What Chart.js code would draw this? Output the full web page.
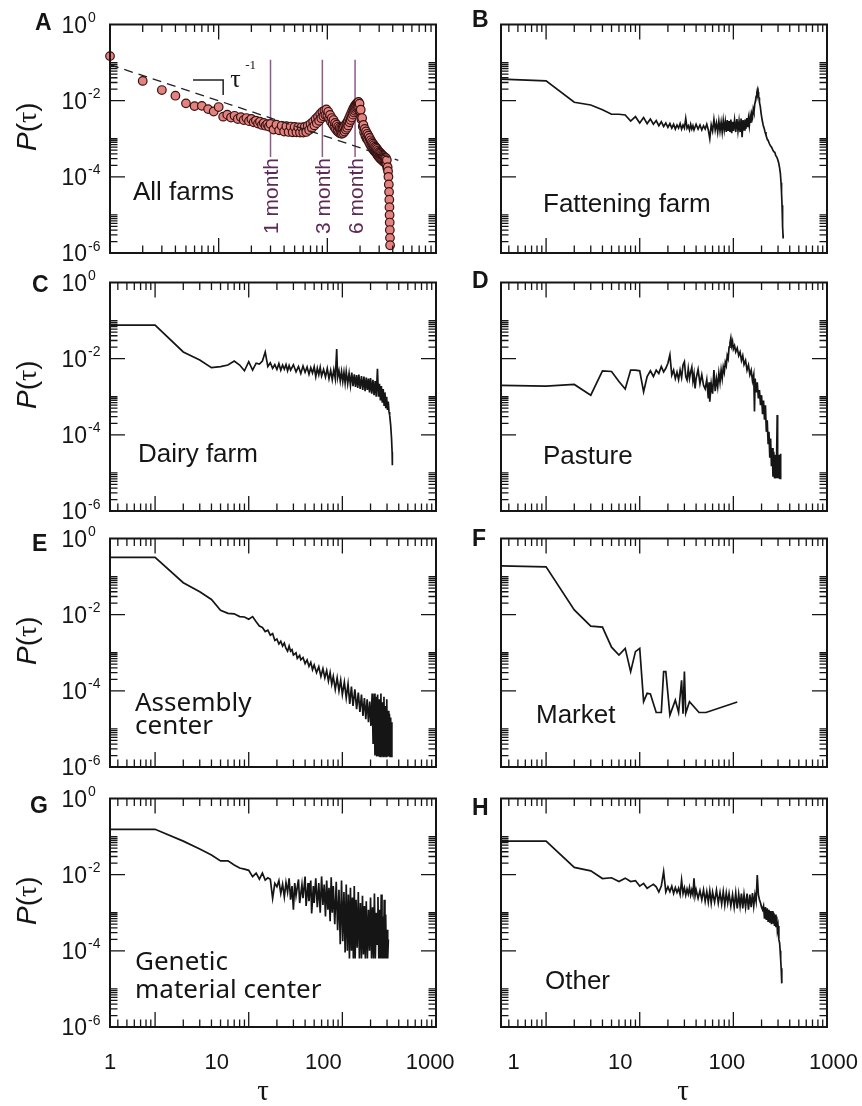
<!DOCTYPE html>
<html>
<head>
<meta charset="utf-8">
<title>Return-time distributions P(τ) by premises type</title>
<script src="https://cdn.jsdelivr.net/npm/chart.js@4.4.1/dist/chart.umd.min.js"></script>
<style>
  html, body { margin: 0; padding: 0; background: #ffffff; }
  #fig { position: relative; width: 862px; height: 1106px; overflow: hidden; }
  #fig canvas { position: absolute; left: 0; top: 0; }
</style>
</head>
<body>
<div id="fig"></div>
<script>
// ---------------------------------------------------------------------------
// Data: [tau (days), P(tau)] for each premises type
// ---------------------------------------------------------------------------
const allFarms = [[1,1.48e-1],[2,3.3e-2],[3,1.9e-2],[4,1.35e-2],[5,8.5e-3],[6,7.2e-3],[7,7.3e-3],[8,6.0e-3],[9,5.2e-3],[10,6.8e-3],
  [11,3.8e-3],[12,4.3e-3],[13,3.6e-3],[14,4.0e-3],[15,3.3e-3],[16,3.7e-3],[17,3.1e-3],[18,3.5e-3],[19,2.9e-3],[20,3.3e-3],
  [21,2.7e-3],[22,3.0e-3],[23,2.5e-3],[24,2.8e-3],[25,2.3e-3],[26,2.6e-3],[27,2.2e-3],[28,2.4e-3],[29,2.1e-3],
  [30,2.45e-3],[32,1.74e-3],[34,2.34e-3],[36,1.66e-3],[38,2.19e-3],[40,1.55e-3],[42,2.14e-3],[44,1.51e-3],[46,2.09e-3],[48,1.48e-3],
  [50,2.04e-3],[52,1.48e-3],[54,2.0e-3],[56,1.45e-3],[58,2.0e-3],[60,1.45e-3],[62,2.04e-3],[64,1.51e-3],[66,2.19e-3],[68,1.7e-3],
  [70,2.45e-3],[72,1.91e-3],[74,2.82e-3],[76,2.24e-3],[78,3.31e-3],[80,2.57e-3],[82,3.8e-3],[84,2.95e-3],[86,4.47e-3],[88,3.47e-3],
  [90,5.1e-3],[92,3.9e-3],[94,5.5e-3],[96,4.2e-3],[98,5.9e-3],[100,4.0e-3],[102,5.1e-3],[104,3.4e-3],[106,4.2e-3],[108,2.8e-3],
  [110,3.5e-3],[112,2.4e-3],[114,3.1e-3],[116,2.04e-3],[118,2.6e-3],[120,1.78e-3],[122,2.34e-3],[124,1.58e-3],[126,2.09e-3],[128,1.45e-3],
  [130,1.95e-3],[132,1.38e-3],[134,1.86e-3],[136,1.35e-3],[138,1.91e-3],[140,1.41e-3],[142,2.04e-3],[144,1.55e-3],[146,2.29e-3],[148,1.74e-3],
  [150,2.57e-3],[152,1.95e-3],[154,2.88e-3],[156,2.24e-3],[158,3.4e-3],[160,2.7e-3],[162,4.0e-3],[164,3.1e-3],[166,4.7e-3],[168,3.6e-3],
  [170,5.5e-3],[172,4.3e-3],[174,6.3e-3],[176,4.9e-3],[178,7.1e-3],[180,5.4e-3],[182,7.8e-3],[184,5.9e-3],[186,8.5e-3],[188,6.3e-3],
  [190,8.9e-3],[192,6.6e-3],[194,9.3e-3],[196,6.8e-3],[198,8.3e-3],[200,5.4e-3],[203,5.8e-3],[206,3.2e-3],[209,3.5e-3],[212,2.1e-3],
  [215,2.3e-3],[218,1.48e-3],[221,1.82e-3],[224,1.2e-3],[227,1.55e-3],[230,1.02e-3],[233,1.35e-3],[236,9.3e-4],[239,1.2e-3],[242,8.1e-4],
  [245,1.05e-3],[248,7.1e-4],[251,9.1e-4],[254,6.3e-4],[257,8.1e-4],[260,5.6e-4],[263,7.4e-4],[266,5.1e-4],[269,6.8e-4],[272,4.7e-4],
  [275,6.2e-4],[278,4.4e-4],[281,5.8e-4],[284,4.1e-4],[287,5.4e-4],[290,3.7e-4],[293,4.9e-4],[296,3.4e-4],[299,4.5e-4],[302,3.2e-4],
  [305,4.3e-4],[308,3.0e-4],[311,4.1e-4],[314,2.9e-4],[317,3.8e-4],[320,2.7e-4],[323,3.6e-4],[326,2.6e-4],[329,3.5e-4],[332,2.45e-4],
  [335,3.3e-4],[338,2.4e-4],[341,3.2e-4],[344,2.3e-4],[347,3.1e-4],[350,2.1e-4],[353,2.75e-4],[356,1.7e-4],[359,1.8e-4],[362,1.4e-4],
  [365,1.0e-4],[368,6.3e-5],[370,4.0e-5],[372,2.5e-5],[373,1.6e-5],[374,1.0e-5],[375,6.3e-6],[376,4.0e-6],[377,2.5e-6],[378,1.6e-6]];

const fatteningFarm = [[0.33,3.7e-2],[1,3.3e-2],[2,9.1e-3],[3,7.7e-3],[4,5.8e-3],[5,4.4e-3],[6,4.4e-3],[7,4.2e-3],[8,2.9e-3],[9,3.8e-3],
  [10,2.6e-3],[11,3.6e-3],[12,2.5e-3],[13,3.3e-3],[14,2.4e-3],[15,3.0e-3],[16,2.2e-3],[17,2.8e-3],[18,2.1e-3],[19,2.6e-3],
  [20,2.0e-3],[21,2.5e-3],[22,1.9e-3],[23,2.4e-3],[24,1.8e-3],[25,2.3e-3],[26,1.9e-3],[27,2.5e-3],[28,1.8e-3],[29,2.3e-3],
  [30,1.9e-3],[31,3.4e-3],[32,1.9e-3],[33,2.2e-3],[34,1.7e-3],[35,2.4e-3],[36,1.8e-3],[37,2.2e-3],[38,1.7e-3],[40,2.4e-3],
  [42,1.8e-3],[44,2.3e-3],[46,1.7e-3],[48,2.2e-3],[50,1.8e-3],[52,2.4e-3],[54,1.7e-3],[56,1.0e-3],[58,2.3e-3],[60,1.6e-3],
  [62,3.2e-3],[64,1.7e-3],[66,2.6e-3],[68,1.5e-3],[70,2.9e-3],[72,1.6e-3],[74,2.7e-3],[76,1.5e-3],[78,3.0e-3],[80,1.7e-3],
  [82,2.8e-3],[84,1.5e-3],[86,3.1e-3],[88,1.6e-3],[90,2.9e-3],[92,1.5e-3],[94,3.2e-3],[96,1.4e-3],[98,2.8e-3],[100,1.6e-3],
  [103,3.1e-3],[106,1.5e-3],[109,3.3e-3],[112,1.6e-3],[115,2.9e-3],[118,1.5e-3],[121,3.4e-3],[124,1.1e-3],[127,3.1e-3],[130,1.7e-3],
  [133,3.2e-3],[136,1.8e-3],[139,3.5e-3],[142,2.0e-3],[145,3.4e-3],[148,2.2e-3],[151,3.8e-3],[154,2.6e-3],[157,4.5e-3],[160,3.6e-3],
  [163,6.0e-3],[166,5.0e-3],[169,8.0e-3],[172,9.5e-3],[175,1.3e-2],[178,1.6e-2],[180,1.85e-2],[182,1.5e-2],[184,1.7e-2],[186,1.25e-2],
  [188,1.2e-2],[190,9.0e-3],[194,7.0e-3],[198,4.6e-3],[203,3.1e-3],[208,2.3e-3],[213,1.9e-3],[218,1.5e-3],[223,1.25e-3],[229,1.0e-3],
  [235,9.0e-4],[242,7.5e-4],[249,6.5e-4],[256,6.0e-4],[263,5.2e-4],[270,4.6e-4],[277,4.4e-4],[284,3.6e-4],[291,3.3e-4],[298,2.8e-4],
  [305,2.3e-4],[312,1.7e-4],[318,1.2e-4],[323,7.0e-5],[327,3.8e-5],[331,1.8e-5],[334,9.0e-6],[337,5.0e-6],[339,3.0e-6],[340,2.4e-6]];

const dairyFarm = [[0.33,7.6e-2],[1,7.6e-2],[2,1.5e-2],[3,9.2e-3],[4,5.8e-3],[5,6.2e-3],[6,6.8e-3],[7,8.7e-3],[8,6.8e-3],[9,4.8e-3],
  [10,8.3e-3],[11,5.0e-3],[12,7.6e-3],[13,7.2e-3],[14,8.7e-3],[15,1.5e-2],[16,6.2e-3],[17,7.8e-3],[18,5.6e-3],[19,7.0e-3],
  [20,5.2e-3],[21,7.4e-3],[22,5.0e-3],[23,6.8e-3],[24,5.3e-3],[25,7.0e-3],[26,4.8e-3],[27,6.6e-3],[28,5.0e-3],[30,6.9e-3],
  [32,4.5e-3],[34,6.2e-3],[36,4.1e-3],[38,6.4e-3],[40,4.4e-3],[42,6.0e-3],[44,3.9e-3],[46,5.8e-3],[48,4.2e-3],[50,6.1e-3],
  [52,3.4e-3],[54,5.6e-3],[56,3.8e-3],[58,5.9e-3],[60,3.5e-3],[63,5.2e-3],[66,3.3e-3],[69,5.5e-3],[72,3.0e-3],[75,4.9e-3],
  [78,2.8e-3],[81,5.1e-3],[84,3.0e-3],[87,1.8e-2],[89,3.2e-3],[92,4.8e-3],[95,2.6e-3],[98,4.6e-3],[101,2.5e-3],[104,4.4e-3],
  [107,2.3e-3],[110,4.6e-3],[114,2.2e-3],[118,4.1e-3],[122,2.0e-3],[126,4.3e-3],[130,1.9e-3],[134,3.9e-3],[138,1.8e-3],[142,3.7e-3],
  [146,1.7e-3],[150,3.8e-3],[155,1.6e-3],[160,3.5e-3],[165,1.5e-3],[170,3.4e-3],[175,1.4e-3],[180,3.2e-3],[185,1.5e-3],[190,3.0e-3],
  [195,1.3e-3],[200,3.1e-3],[206,1.2e-3],[212,2.8e-3],[218,1.1e-3],[224,2.6e-3],[230,1.0e-3],[237,5.4e-3],[243,1.0e-3],[249,2.2e-3],
  [255,8.0e-4],[261,1.9e-3],[267,7.0e-4],[273,1.6e-3],[279,6.0e-4],[285,1.3e-3],[291,5.0e-4],[297,1.0e-3],[303,4.5e-4],[309,7.5e-4],
  [315,4.0e-4],[320,3.3e-4],[328,1.8e-4],[335,8.1e-5],[340,3.5e-5],[342,1.6e-5]];

const pasture = [[0.33,2.0e-3],[1,1.9e-3],[2,2.1e-3],[3,1.1e-3],[4,4.8e-3],[5,4.6e-3],[6,2.5e-3],[7,1.6e-3],[8,5.0e-3],[9,5.0e-3],
  [10,4.8e-3],[11,1.35e-3],[12,3.4e-3],[13,4.8e-3],[14,3.4e-3],[15,5.0e-3],[16,4.1e-3],[17,6.2e-3],[18,4.5e-3],[19,5.6e-3],
  [20,7.6e-3],[21,1.26e-2],[22,3.7e-3],[23,5.0e-3],[24,3.0e-3],[25,4.4e-3],[26,2.8e-3],[27,5.0e-3],[28,3.2e-3],[29,6.8e-3],
  [30,8.3e-3],[31,3.4e-3],[32,2.75e-3],[33,5.5e-3],[34,3.0e-3],[35,4.5e-3],[36,6.0e-3],[37,2.6e-3],[38,4.0e-3],[39,1.65e-3],
  [40,3.0e-3],[42,5.2e-3],[44,2.2e-3],[46,3.8e-3],[48,2.0e-3],[50,1.6e-3],[52,2.8e-3],[54,9.0e-4],[55,2.4e-3],[56,7.4e-4],
  [58,2.2e-3],[60,1.2e-3],[62,5.0e-3],[64,1.4e-3],[66,3.0e-3],[68,1.8e-3],[70,4.2e-3],[72,2.4e-3],[74,5.0e-3],[76,3.0e-3],
  [78,6.0e-3],[80,4.4e-3],[82,8.0e-3],[84,6.5e-3],[86,1.2e-2],[88,1.0e-2],[90,2.0e-2],[92,2.6e-2],[94,3.5e-2],[96,2.2e-2],
  [98,2.8e-2],[100,1.8e-2],[103,2.2e-2],[106,1.5e-2],[110,1.9e-2],[114,1.2e-2],[118,1.5e-2],[122,9.0e-3],[126,1.2e-2],[130,7.0e-3],
  [135,9.0e-3],[140,5.0e-3],[145,6.8e-3],[150,3.8e-3],[155,5.0e-3],[160,2.6e-3],[165,3.8e-3],[168,4.1e-4],[171,3.0e-3],[175,1.3e-3],
  [180,2.4e-3],[185,9.0e-4],[190,1.5e-3],[195,6.0e-4],[200,1.1e-3],[205,3.5e-4],[210,8.0e-4],[215,2.5e-4],[220,6.0e-4],[225,1.2e-4],
  [230,2.4e-4],[235,6.0e-5],[240,1.2e-4],[245,2.5e-5],[250,8.0e-5],[255,1.5e-5],[260,4.5e-5],[265,8.0e-6],[270,3.6e-5],[275,7.2e-6],
  [280,3.0e-5],[285,7.2e-6],[290,3.2e-5],[294,3.3e-4],[297,7.2e-6],[300,2.5e-5],[305,7.2e-6],[310,3.0e-5],[315,7.2e-6],[319,3.2e-5],
  [321,7.2e-6]];

const assemblyCenter = [[0.33,3.2e-1],[1,3.2e-1],[2,6.9e-2],[3,4.0e-2],[4,2.5e-2],[5,1.3e-2],[6,1.08e-2],[7,1.05e-2],[8,8.9e-3],[9,8.7e-3],
  [10,7.6e-3],[11,8.9e-3],[12,6.5e-3],[13,5.0e-3],[14,4.6e-3],[15,3.6e-3],[16,3.9e-3],[17,2.9e-3],[18,3.2e-3],[19,2.1e-3],
  [20,2.3e-3],[21,1.7e-3],[22,2.0e-3],[23,1.5e-3],[24,1.8e-3],[25,1.3e-3],[26,1.1e-3],[27,1.5e-3],[28,1.1e-3],[29,1.2e-3],
  [30,8.7e-4],[32,1.0e-3],[33,7.1e-4],[35,8.5e-4],[36,6.5e-4],[38,7.5e-4],[40,5.2e-4],[42,6.5e-4],[44,4.4e-4],[46,5.6e-4],
  [48,3.6e-4],[50,4.8e-4],[53,3.0e-4],[56,4.3e-4],[59,2.4e-4],[62,3.8e-4],[65,2.2e-4],[68,3.4e-4],[71,1.8e-4],[74,3.0e-4],
  [77,1.5e-4],[80,2.4e-4],[84,1.1e-4],[88,2.2e-4],[92,1.0e-4],[96,1.9e-4],[100,8.0e-5],[105,1.7e-4],[110,6.5e-5],[115,1.5e-4],
  [120,4.5e-5],[125,1.3e-4],[130,4.0e-5],[136,1.1e-4],[142,3.3e-5],[148,9.0e-5],[154,2.8e-5],[160,8.0e-5],[166,2.2e-5],[172,6.5e-5],
  [178,1.8e-5],[184,6.0e-5],[190,1.5e-5],[196,5.2e-5],[202,1.2e-5],[208,8.5e-5],[213,4.0e-6],[218,8.5e-5],[223,2.0e-6],[228,7.0e-5],
  [233,1.9e-6],[238,8.0e-5],[243,1.9e-6],[248,6.0e-5],[253,1.9e-6],[258,8.5e-5],[263,1.9e-6],[268,5.0e-5],[273,1.9e-6],[278,7.0e-5],
  [283,1.9e-6],[288,4.0e-5],[293,1.9e-6],[298,6.0e-5],[303,1.9e-6],[308,3.0e-5],[313,1.9e-6],[318,2.5e-5],[323,1.9e-6],[328,2.0e-5],
  [333,1.9e-6],[338,1.5e-5]];

const market = [[0.33,1.9e-1],[1,1.8e-1],[2,1.33e-2],[3,5.0e-3],[4,4.7e-3],[5,1.4e-3],[6,8.7e-4],[7,1.3e-3],[8,3.2e-4],[9,1.07e-3],
  [10,1.3e-3],[11,5.2e-5],[12,8.6e-5],[13,8.3e-5],[15,2.7e-5],[17,2.7e-5],[18,3.2e-4],[19,3.2e-4],[21,2.3e-5],[24,5.7e-5],
  [26,2.7e-5],[28,1.9e-4],[29,2.5e-5],[30,3.2e-4],[31,2.6e-5],[34,5.2e-5],[43,2.7e-5],[51,2.7e-5],[110,5.1e-5]];

const geneticCenter = [[0.33,1.55e-1],[1,1.55e-1],[2,7.6e-2],[3,4.7e-2],[4,3.3e-2],[5,2.3e-2],[6,2.3e-2],[7,1.8e-2],[8,1.5e-2],[9,1.4e-2],
  [10,1.3e-2],[11,8.9e-3],[12,1.1e-2],[13,7.6e-3],[14,1.1e-2],[15,7.2e-3],[16,8.3e-3],[17,7.6e-3],[18,2.4e-3],[19,5.9e-3],
  [20,4.8e-3],[21,7.0e-3],[22,3.2e-3],[23,5.6e-3],[24,2.6e-3],[25,6.2e-3],[26,3.5e-3],[27,8.0e-3],[28,2.2e-3],[29,5.0e-3],
  [30,1.2e-3],[31,6.0e-3],[32,2.8e-3],[34,7.5e-3],[35,1.8e-3],[37,5.5e-3],[38,2.4e-3],[40,8.9e-3],[41,1.5e-3],[43,6.0e-3],
  [44,2.0e-3],[46,7.0e-3],[47,9.6e-4],[49,5.0e-3],[50,1.8e-3],[52,8.0e-3],[54,1.4e-3],[56,6.0e-3],[58,1.0e-3],[60,9.0e-3],
  [62,1.6e-3],[64,5.5e-3],[66,8.0e-4],[68,7.0e-3],[70,1.2e-3],[72,4.5e-3],[74,6.0e-4],[76,8.5e-3],[78,1.0e-3],[80,5.0e-3],
  [83,5.0e-4],[86,6.5e-3],[89,3.5e-4],[92,4.0e-3],[95,1.5e-4],[98,7.0e-3],[101,1.8e-4],[104,3.5e-3],[107,9.0e-5],[110,5.5e-3],
  [113,1.0e-4],[116,3.0e-3],[119,6.3e-5],[122,4.5e-3],[125,1.0e-4],[128,2.5e-3],[131,6.3e-5],[134,5.0e-3],[137,6.3e-5],[140,2.2e-3],
  [144,1.2e-4],[148,3.5e-3],[152,6.3e-5],[156,1.8e-3],[160,6.3e-5],[164,2.8e-3],[168,8.0e-5],[172,1.5e-3],[176,6.3e-5],[180,2.0e-3],
  [185,6.3e-5],[190,1.2e-3],[195,1.0e-4],[200,2.5e-3],[205,6.3e-5],[210,1.4e-3],[215,6.3e-5],[220,3.2e-3],[225,6.3e-5],[230,1.0e-3],
  [235,1.5e-4],[240,2.6e-3],[245,6.3e-5],[250,1.2e-3],[255,6.3e-5],[260,3.0e-3],[265,6.3e-5],[270,8.0e-4],[275,6.3e-5],[280,2.2e-3],
  [285,6.3e-5],[290,9.0e-4],[295,6.3e-5],[300,3.6e-4],[305,6.3e-5],[310,2.0e-4]];

const otherPremises = [[0.33,7.6e-2],[1,7.6e-2],[2,1.55e-2],[3,1.26e-2],[4,7.9e-3],[5,8.3e-3],[6,6.6e-3],[7,8.1e-3],[8,6.6e-3],[9,7.0e-3],
  [10,5.0e-3],[11,5.9e-3],[12,4.4e-3],[13,5.0e-3],[14,5.6e-3],[15,4.8e-3],[16,3.5e-3],[17,5.0e-3],[18,1.2e-2],[19,3.5e-3],
  [20,4.8e-3],[21,3.6e-3],[22,5.0e-3],[23,3.2e-3],[24,4.6e-3],[25,3.4e-3],[26,4.4e-3],[27,3.0e-3],[28,7.2e-3],[29,3.2e-3],
  [30,4.5e-3],[31,2.9e-3],[32,4.2e-3],[33,3.1e-3],[34,4.6e-3],[35,2.9e-3],[36,4.0e-3],[37,3.0e-3],[38,8.0e-3],[39,2.8e-3],
  [40,4.0e-3],[42,2.4e-3],[44,3.8e-3],[46,2.2e-3],[48,4.0e-3],[50,2.0e-3],[52,3.6e-3],[54,1.9e-3],[56,3.8e-3],[58,1.8e-3],
  [60,3.5e-3],[63,1.9e-3],[66,3.9e-3],[69,1.8e-3],[72,3.4e-3],[75,1.7e-3],[78,3.6e-3],[81,1.6e-3],[84,3.3e-3],[87,1.8e-3],
  [90,3.2e-3],[94,1.5e-3],[98,3.0e-3],[102,1.4e-3],[106,3.3e-3],[110,1.3e-3],[114,3.1e-3],[118,1.5e-3],[122,3.2e-3],[126,1.3e-3],
  [130,3.0e-3],[135,1.4e-3],[140,3.2e-3],[145,1.2e-3],[150,3.0e-3],[155,1.4e-3],[160,3.3e-3],[165,1.5e-3],[170,3.0e-3],[175,2.0e-3],
  [180,9.8e-3],[185,3.0e-3],[190,2.2e-3],[195,1.8e-3],[200,1.4e-3],[205,1.2e-3],[210,1.5e-3],[215,7.0e-4],[220,1.4e-3],[225,6.5e-4],
  [230,1.3e-3],[235,6.0e-4],[240,1.2e-3],[245,5.5e-4],[250,1.1e-3],[255,5.0e-4],[260,1.1e-3],[265,5.2e-4],[270,1.0e-3],[275,4.5e-4],
  [280,9.0e-4],[285,4.2e-4],[290,8.0e-4],[295,3.5e-4],[300,4.5e-4],[306,2.0e-4],[312,1.6e-4],[316,1.0e-4],[320,6.0e-5],[324,3.5e-5],
  [328,2.0e-5],[330,1.4e-5]];

// Reference guide τ^-1 (dashed) and its slope bracket, panel A
const guideLine = [[1, 0.088], [450, 2.7e-4]];
const slopeBracket = [[5.8, 0.035], [11, 0.035], [11, 0.014]];

// Month markers, panel A
const monthDays = [30, 90, 180];
const monthLabels = ['1 month', '3 month', '6 month'];
const monthSpan = [0.118, 3.3e-4];

// Axis labels
const xTickValues = [1, 10, 100, 1000];
const xTickLabels = ['1', '10', '100', '1000'];
const yTickValues = [1, 1e-2, 1e-4, 1e-6];
const yTickExponents = ['0', '-2', '-4', '-6'];

// ---------------------------------------------------------------------------
// Layout and styling
// ---------------------------------------------------------------------------
const W = 862, H = 1106;
const COLS = [{ left: 110, right: 436 }, { left: 501, right: 827 }];
const ROW_TOPS = [24.5, 282.5, 538.5, 798.5];
const PLOT_H = 228.5;
const INK = '#151515';
const MONTH_LINE = '#8e5b86';
const MONTH_INK = '#5b2a56';
const SANS = '"Liberation Sans", Arial, Helvetica, sans-serif';
const ROUND = '"Noto Sans", "Open Sans", sans-serif';
const SERIF = '"Liberation Serif", "Times New Roman", "DejaVu Serif", serif';

// label scale per column (bottom row tick labels)
const LABEL_RANGE = [{ min: 1, max: 1135 }, { min: 0.762, max: 871 }];
const TAU_TITLE_X = [263, 683];

const panels = [
  { letter: 'A', series: allFarms, col: 0, row: 0, kind: 'points', xMin: 1, letterAt: [35, 30], lines: ['All farms'], textAt: [133, 200], font: SANS, gap: 0 },
  { letter: 'B', series: fatteningFarm, col: 1, row: 0, kind: 'line', xMin: 0.33, letterAt: [472, 27], lines: ['Fattening farm'], textAt: [543, 212], font: SANS, gap: 0 },
  { letter: 'C', series: dairyFarm, col: 0, row: 1, kind: 'line', xMin: 0.33, letterAt: [32, 292], lines: ['Dairy farm'], textAt: [138, 462], font: SANS, gap: 0 },
  { letter: 'D', series: pasture, col: 1, row: 1, kind: 'line', xMin: 0.33, letterAt: [472, 288], lines: ['Pasture'], textAt: [543, 464], font: SANS, gap: 0 },
  { letter: 'E', series: assemblyCenter, col: 0, row: 2, kind: 'line', xMin: 0.33, letterAt: [32, 551], lines: ['Assembly', 'center'], textAt: [135, 711], font: ROUND, gap: 23 },
  { letter: 'F', series: market, col: 1, row: 2, kind: 'line', xMin: 0.33, letterAt: [472, 546], lines: ['Market'], textAt: [536, 723], font: SANS, gap: 0 },
  { letter: 'G', series: geneticCenter, col: 0, row: 3, kind: 'line', xMin: 0.33, letterAt: [30, 813], lines: ['Genetic', 'material center'], textAt: [135, 970], font: ROUND, gap: 28 },
  { letter: 'H', series: otherPremises, col: 1, row: 3, kind: 'line', xMin: 0.33, letterAt: [472, 815], lines: ['Other'], textAt: [545, 989], font: SANS, gap: 0 }
];

const toPoints = arr => arr.map(([x, y]) => ({ x, y }));

// tick marks of a log axis: [value, isMajor]
function xTickMarks(xMin) {
  const out = [];
  for (let d = -1; d <= 2; d++) {
    for (let k = 1; k <= 9; k++) {
      const v = k * Math.pow(10, d);
      if (v <= xMin * 1.02 || v >= 999) continue;
      out.push([v, k === 1]);
    }
  }
  return out;
}
function yTickMarks() {
  const out = [[1e-2, true], [1e-4, true]];
  for (const d of [-2, -4, -6]) {
    for (let k = 2; k <= 10; k++) out.push([k * Math.pow(10, d), false]);
  }
  return out;
}

function drawText(ctx, s, x, y, font, align, color) {
  ctx.font = font;
  ctx.textAlign = align || 'left';
  ctx.textBaseline = 'alphabetic';
  ctx.fillStyle = color || INK;
  ctx.fillText(s, x, y);
}

function decorations(panel) {
  return {
    id: 'decor' + panel.letter,
    afterDatasetsDraw(chart) {
      const ctx = chart.ctx;
      const a = chart.chartArea;
      const xs = chart.scales.x, ys = chart.scales.y;
      ctx.save();

      // inward tick marks on all four sides
      ctx.strokeStyle = INK;
      ctx.lineWidth = 1.3;
      ctx.beginPath();
      for (const [v, major] of xTickMarks(panel.xMin)) {
        const px = xs.getPixelForValue(v);
        const len = major ? 15 : 7.5;
        ctx.moveTo(px, a.bottom); ctx.lineTo(px, a.bottom - len);
        ctx.moveTo(px, a.top); ctx.lineTo(px, a.top + len);
      }
      for (const [v, major] of yTickMarks()) {
        const py = ys.getPixelForValue(v);
        const len = major ? 15 : 7.5;
        ctx.moveTo(a.left, py); ctx.lineTo(a.left + len, py);
        ctx.moveTo(a.right, py); ctx.lineTo(a.right - len, py);
      }
      ctx.stroke();

      // frame
      ctx.lineWidth = 2;
      ctx.strokeRect(a.left, a.top, a.right - a.left, a.bottom - a.top);

      // panel letter
      drawText(ctx, panel.letter, panel.letterAt[0], panel.letterAt[1], 'bold 23px ' + SANS);

      // panel name
      panel.lines.forEach((line, i) => {
        drawText(ctx, line, panel.textAt[0], panel.textAt[1] + i * panel.gap, '26px ' + panel.font);
      });

      // y axis labels and title on the left column
      if (panel.col === 0) {
        yTickValues.forEach((v, i) => {
          const py = ys.getPixelForValue(v);
          drawText(ctx, '10', a.left - 23, py + 8, '23px ' + SANS, 'right');
          drawText(ctx, yTickExponents[i], a.left - 22, py - 2.5, '14px ' + SANS, 'left');
        });
        const cy = (a.top + a.bottom) / 2 - 12;
        const parts = [['P', 'italic 28px ' + SANS], ['(', '28px ' + SANS], ['τ', '28px ' + SERIF], [')', '28px ' + SANS]];
        let total = 0;
        const widths = parts.map(([s, f]) => { ctx.font = f; const w = ctx.measureText(s).width; total += w; return w; });
        ctx.save();
        ctx.translate(36, cy);
        ctx.rotate(-Math.PI / 2);
        let x0 = -total / 2;
        parts.forEach(([s, f], i) => { drawText(ctx, s, x0, 0, f, 'left'); x0 += widths[i]; });
        ctx.restore();
      }

      // x axis labels and title on the bottom row
      if (panel.row === 3) {
        const ls = chart.scales.xl;
        xTickValues.forEach((v, i) => {
          drawText(ctx, xTickLabels[i], ls.getPixelForValue(v), 1069, '22px ' + SANS, 'center');
        });
        drawText(ctx, 'τ', TAU_TITLE_X[panel.col], 1100, '29px ' + SERIF, 'center');
      }

      // month annotations and τ^-1 label in panel A
      if (panel.kind === 'points') {
        monthDays.forEach((d, i) => {
          const px = xs.getPixelForValue(d);
          ctx.save();
          ctx.translate(px + 7.5, a.top + 171.5);
          ctx.rotate(-Math.PI / 2);
          drawText(ctx, monthLabels[i], 0, 0, '21px ' + SANS, 'center', MONTH_INK);
          ctx.restore();
        });
        const bx = xs.getPixelForValue(slopeBracket[1][0]);
        const by = ys.getPixelForValue(slopeBracket[1][1]);
        drawText(ctx, 'τ', bx + 7, by + 7, '26px ' + SERIF, 'left');
        drawText(ctx, '-1', bx + 22, by - 11, '13px ' + SERIF, 'left');
      }
      ctx.restore();
    }
  };
}

function buildDatasets(panel) {
  if (panel.kind === 'points') {
    const sets = monthDays.map(d => ({
      data: [{ x: d, y: monthSpan[0] }, { x: d, y: monthSpan[1] }],
      borderColor: MONTH_LINE, borderWidth: 1.5, pointRadius: 0, fill: false, order: 3
    }));
    sets.push({
      data: toPoints(panel.series), showLine: false, clip: false,
      pointRadius: 4.3, pointBackgroundColor: '#e3837f', pointBorderColor: '#3a1212', pointBorderWidth: 1.2,
      order: 2
    });
    sets.push({
      data: toPoints(guideLine), borderColor: '#222', borderWidth: 1.3, borderDash: [9, 6],
      pointRadius: 0, fill: false, order: 1
    });
    sets.push({
      data: toPoints(slopeBracket), borderColor: '#222', borderWidth: 1.5,
      pointRadius: 0, fill: false, order: 1
    });
    return sets;
  }
  return [{
    data: toPoints(panel.series), borderColor: INK, borderWidth: 1.7,
    pointRadius: 0, fill: false, tension: 0, order: 1
  }];
}

const fig = document.getElementById('fig');
panels.forEach(panel => {
  const canvas = document.createElement('canvas');
  canvas.width = W; canvas.height = H;
  canvas.style.width = W + 'px'; canvas.style.height = H + 'px';
  fig.appendChild(canvas);
  const col = COLS[panel.col];
  const top = ROW_TOPS[panel.row];
  new Chart(canvas, {
    type: 'line',
    data: { datasets: buildDatasets(panel) },
    options: {
      responsive: false,
      animation: false,
      devicePixelRatio: 1,
      events: [],
      layout: { padding: { left: col.left, right: W - col.right, top: top, bottom: H - (top + PLOT_H) } },
      plugins: { legend: { display: false }, tooltip: { enabled: false } },
      scales: {
        x: { type: 'logarithmic', display: false, bounds: 'data', min: panel.xMin, max: 1000 },
        y: { type: 'logarithmic', display: false, bounds: 'data', min: 1e-6, max: 1 },
        xl: { type: 'logarithmic', axis: 'x', position: 'bottom', display: false, bounds: 'data',
              min: LABEL_RANGE[panel.col].min, max: LABEL_RANGE[panel.col].max }
      }
    },
    plugins: [decorations(panel)]
  });
});
</script>
</body>
</html>
